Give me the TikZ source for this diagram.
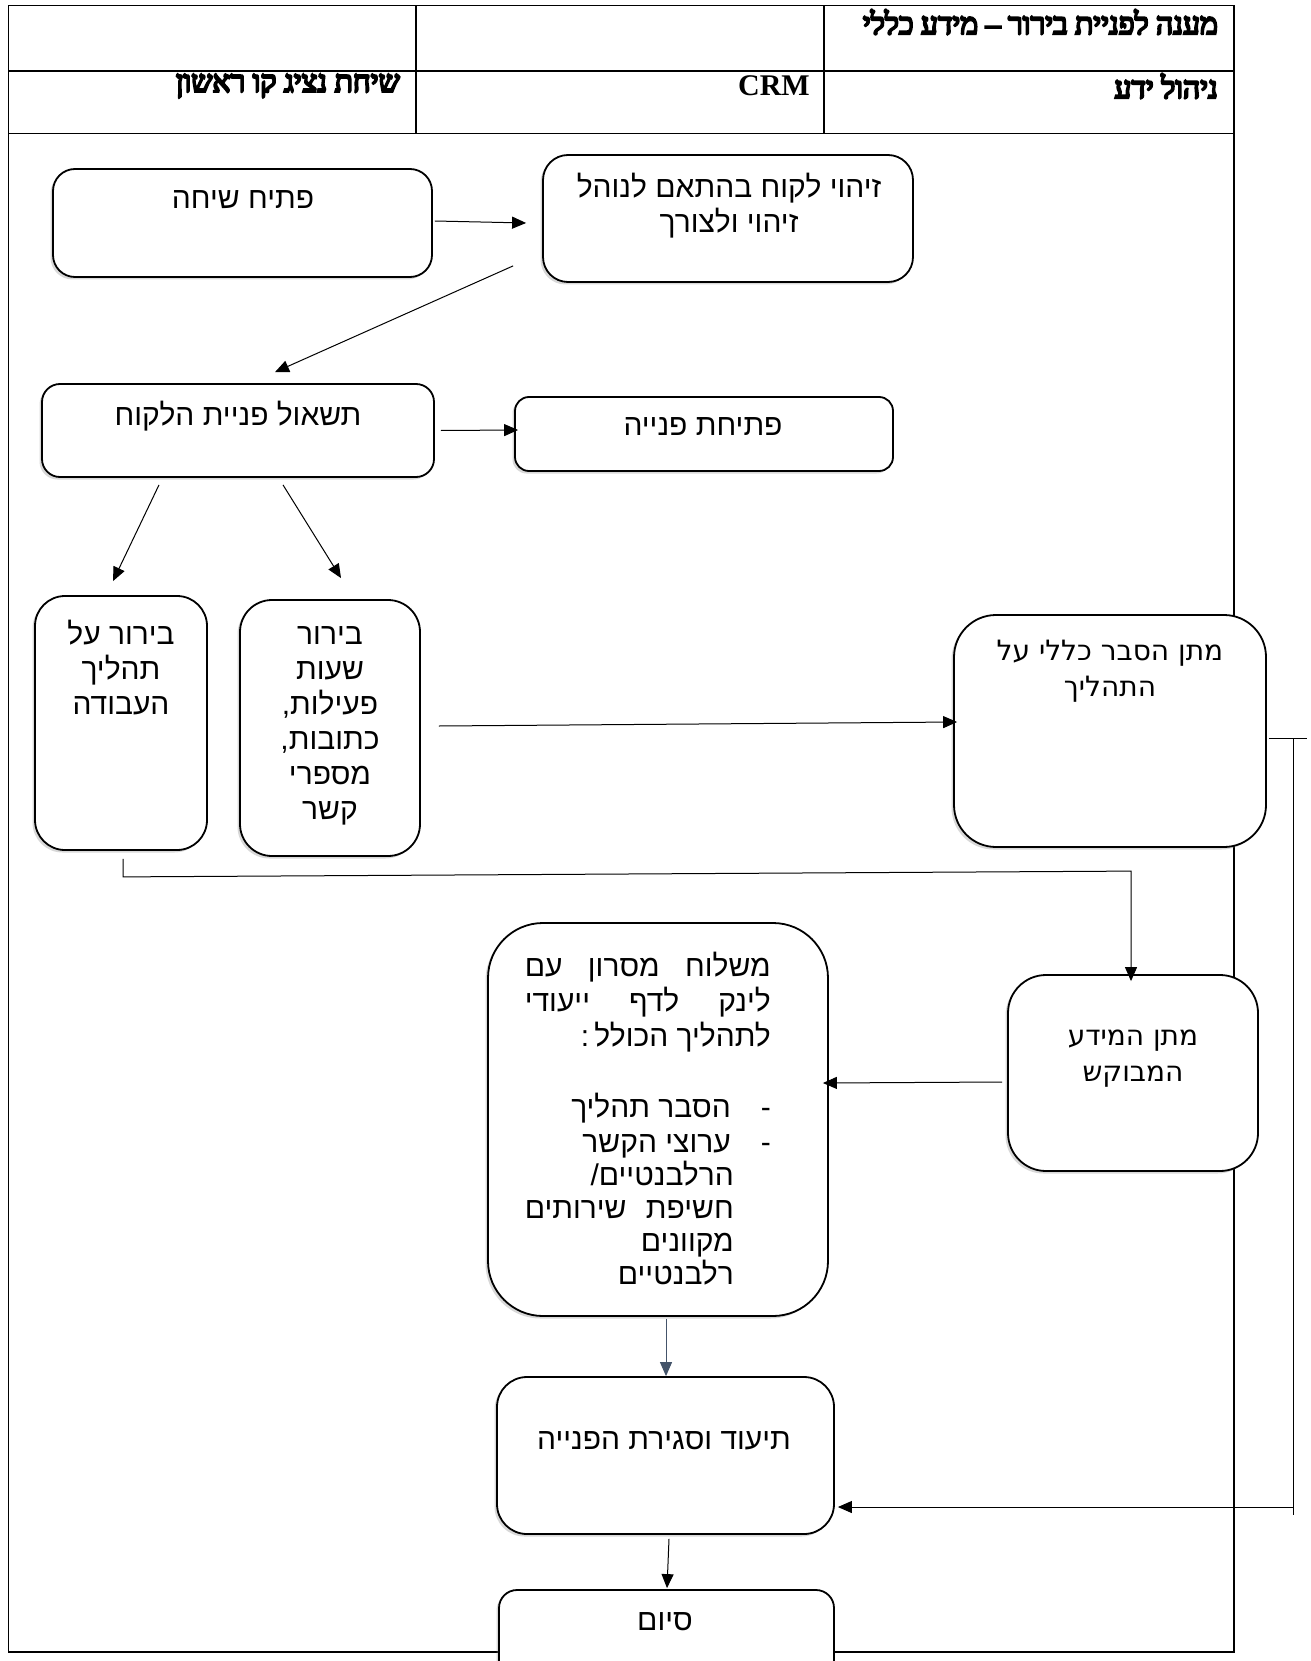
\documentclass[tikz,border=0pt]{standalone}
\usepackage{fontspec}
\usetikzlibrary{arrows.meta,shadows,fit,calc}
\TeXXeTstate=1
\newfontfamily\hebsans[Script=Hebrew]{Liberation Sans}
\newfontfamily\hebdv[Script=Hebrew]{DejaVu Sans}
\newfontfamily\hebserif[Script=Hebrew]{Liberation Serif}
\newfontfamily\hebhdr[Script=Hebrew, FakeBold=7]{Liberation Serif}
\newcommand{\hebline}[1]{\beginR #1\endR}
\tikzset{
  rbox/.style={draw=black, line width=1.8pt, fill=white, rounded corners=#1, inner sep=0pt,
    drop shadow={shadow xshift=-2.5pt, shadow yshift=-2.5pt, opacity=0.3, fill=gray}},
  txt/.style={font=\hebsans\fontsize{30}{35}\selectfont, inner sep=0pt, align=center},
  txtdv/.style={font=\hebdv\fontsize{28}{36}\selectfont, inner sep=0pt, align=center},
  hdr/.style={font=\hebhdr\fontsize{30}{35}\selectfont, inner sep=0pt},
  hdrlat/.style={font=\hebserif\bfseries\fontsize{30}{35}\selectfont, inner sep=0pt},
  tbl/.style={line width=1.4pt},
  arr/.style={line width=1pt, -{Triangle[length=14pt,width=12pt]}},
}
\begin{document}
\begin{tikzpicture}[x=1pt,y=-1pt]
\clip (0,0) rectangle (1310,1661);
\fill[white] (0,0) rectangle (1310,1661);
% header table
\draw[tbl] (8.5,5.3) rectangle (1234,133.4);
\draw[tbl] (8.5,71) -- (1234,71);
\draw[tbl] (416,5.3) -- (416,133.4);
\draw[tbl] (824,5.3) -- (824,133.4);
% frame
\draw[tbl] (8.5,133.4) -- (8.5,1652) -- (1234,1652) -- (1234,133.4);
% headers
\node[hdr, anchor=east] (h1) at (1218,22) {\hebline{מענה לפניית בירור – מידע כללי}};
\node[hdr, anchor=east] (h2) at (1218,86) {\hebline{ניהול ידע}};
\node[hdrlat, anchor=east] (h3) at (810,86) {CRM};
\node[hdr, anchor=east] (h4) at (400,86) {\hebline{שיחת נציג קו ראשון}};
% boxes
\node[rbox=22, fit={(53,169)(432,277)}] (b1) {};
\node[rbox=25, fit={(543,155)(913,282)}] (b2) {};
\node[rbox=18, fit={(42,384)(434,477)}] (b3) {};
\node[rbox=14, fit={(515,397)(893,471)}] (b4) {};
\node[rbox=30, fit={(35,596)(207,850)}] (b5) {};
\node[rbox=32, fit={(240,600)(420,856)}] (b6) {};
\node[rbox=42, fit={(954,615)(1266,847)}] (b7) {};
\node[rbox=38, fit={(1008,975)(1258,1171)}] (b8) {};
\node[rbox=55, fit={(488,923)(828,1316)}] (b9) {};
\node[rbox=30, fit={(497,1377)(834,1534)}] (b10) {};
\node[rbox=18, fit={(499,1590)(834,1680)}] (b11) {};
% texts
\node[txt] (t1) at (243,200) {\hebline{פתיח שיחה}};
\node[txt] (t2) at (729,206) {\hebline{זיהוי לקוח בהתאם לנוהל}\\\hebline{זיהוי ולצורך}};
\node[txt] (t3) at (238,416) {\hebline{תשאול פניית הלקוח}};
\node[txt] (t4) at (703,427) {\hebline{פתיחת פנייה}};
\node[txt] (t5) at (121,668) {\hebline{בירור על}\\\hebline{תהליך}\\\hebline{העבודה}};
\node[txt] (t6) at (330,726) {\hebline{בירור}\\\hebline{שעות}\\\hebline{פעילות,}\\\hebline{כתובות,}\\\hebline{מספרי}\\\hebline{קשר}};
\node[txtdv] (t7) at (1110,671) {\hebline{מתן הסבר כללי על}\\\hebline{התהליך}};
\node[txtdv] (t8) at (1133,1059) {\hebline{מתן המידע}\\\hebline{המבוקש}};
\node[txt, anchor=north east, align=right] (t9) at (771,952) {%
\hbox to 246pt{\beginR משלוח\hfill מסרון\hfill עם\endR}\\
\hbox to 246pt{\beginR לינק\hfill לדף\hfill ייעודי\endR}\\
\hbox to 246pt{\beginR לתהליך הכולל\,:\hfill\endR}\\[36pt]
\hbox to 246pt{\beginR -\hskip 30pt הסבר תהליך\hfill\endR}\\[0pt]
\hbox to 246pt{\beginR -\hskip 30pt ערוצי הקשר\hfill\endR}\\[-2pt]
\hbox to 246pt{\beginR\hskip 37pt הרלבנטיים/\hfill\endR}\\[-2pt]
\hbox to 246pt{\beginR\hskip 37pt חשיפת\hfill שירותים\endR}\\[-2pt]
\hbox to 246pt{\beginR\hskip 37pt מקוונים\hfill\endR}\\[-2pt]
\hbox to 246pt{\beginR\hskip 37pt רלבנטיים\hfill\endR}};
\node[txt] (t10) at (664,1441) {\hebline{תיעוד וסגירת הפנייה}};
\node[txt] (t11) at (665,1622) {\hebline{סיום}};
% connectors
\draw[arr] ($(b1.east)+(2,-2)$) -- ($(b2.west)+(-16,4.5)$);
\draw[arr] ($(b2.south west)+(-29,-17)$) -- ($(b3.north)+(37,-11)$);
\draw[arr] ($(b3.east)+(6,0)$) -- ($(b4.west)+(4,-4)$);
\draw[arr] ($(b3.south)+(-79,7)$) -- ($(b5.north)+(-8,-14)$);
\draw[arr] ($(b3.south)+(45,7)$) -- ($(b6.north)+(11,-21)$);
\draw[arr] ($(b6.east)+(18,-2)$) -- ($(b7.west)+(4,-9)$);
\draw[arr] ($(b5.south)+(2,8)$) -- ++(0,18) -- ($(b8.north)+(-2,-103)$) -- ($(b8.north)+(-2,7)$);
\draw[arr] ($(b8.west)+(-5,9)$) -- ($(b9.east)+(-6,-36.5)$);
\draw[arr, color={rgb,255:red,68;green,84;blue,106}] ($(b9.south)+(8,2)$) -- ($(b10.north)+(0.5,0)$);
\draw[line width=1pt] ($(b7.east)+(2,7)$) -- ($(b7.east)+(40,7)$);
\coordinate (rc) at ($(b7.east)+(27,7)$);
\draw[line width=1pt] (rc) -- ++(0,777);
\draw[arr] ($(rc)+(0,769)$) -- ($(b10.east)+(3,51.5)$);
\draw[arr] ($(b10.south)+(3.5,4)$) -- ($(b11.north)+(0.5,-1)$);
\end{tikzpicture}
\end{document}
